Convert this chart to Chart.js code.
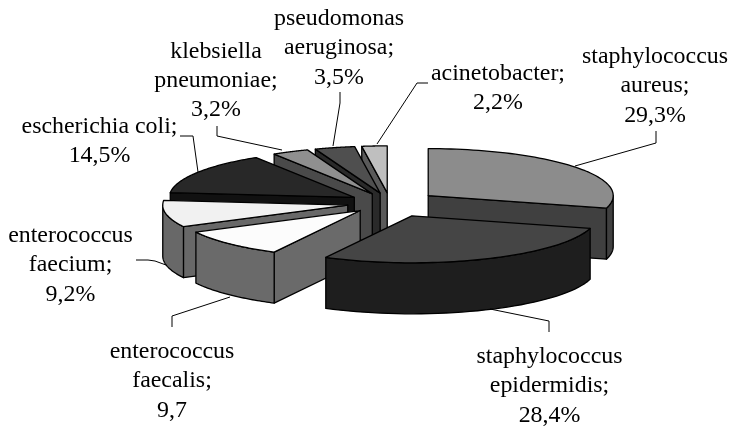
<!DOCTYPE html>
<html><head><meta charset="utf-8">
<style>html,body{margin:0;padding:0;background:#fff}#w{width:730px;height:428px}</style>
<script src="https://cdn.jsdelivr.net/npm/chart.js@4"></script></head>
<body><div id="w"><canvas id="c" width="730" height="428"></canvas></div>
<script>
const categories=["staphylococcus aureus","staphylococcus epidermidis","enterococcus faecalis","enterococcus faecium","escherichia coli","klebsiella pneumoniae","pseudomonas aeruginosa","acinetobacter"];
const values=[29.3,28.4,9.7,9.2,14.5,3.2,3.5,2.2];
const explode=[48,55,42,43,42,40,40,40];
const topColors=["#8c8c8c","#454545","#fcfcfc","#f1f1f1","#282828","#8f8f8f","#4f4f4f","#bfbfbf"];
const wallColors=["#404040","#1e1e1e","#6a6a6a","#686868","#111111","#4a4a4a","#2a2a2a","#5a5a5a"];
const drawOrder=[7,6,5,4,0,3,2,1];
const labelLines=[["staphylococcus","aureus;","29,3%"],["staphylococcus","epidermidis;","28,4%"],["enterococcus","faecalis;","9,7"],["enterococcus","faecium;","9,2%"],["escherichia coli;","14,5%"],["klebsiella","pneumoniae;","3,2%"],["pseudomonas","aeruginosa;","3,5%"],["acinetobacter;","2,2%"]];
const labelX=[655,549.5,172,70.5,99.5,216,339,498];
const labelY=[63,363,358,242,133,57.5,25,79.5];
const leaders=[[[575,166],[656,143],[656,131]],[[490,309],[549,321],[549,332]],[[230,297],[172,316],[172,327]],[[166,265],[155,261],[148,260],[136,260]],[[198,172],[193,136],[180,136]],[[282,150],[217,136],[217,126]],[[333,146],[340,103],[340,92]],[[377,144],[417,83],[428,83]]];
const tilt=0.254, depth=51, lineH=29.3;

function face(ctx,pts,fill){ctx.beginPath();pts.forEach((p,i)=>i?ctx.lineTo(p[0],p[1]):ctx.moveTo(p[0],p[1]));ctx.closePath();ctx.fillStyle=fill;ctx.fill();ctx.stroke();}
const pie3d={id:'pie3d',
 beforeDatasetsDraw(chart){
  const ctx=chart.ctx, arcs=chart.getDatasetMeta(0).data;
  ctx.save();ctx.strokeStyle='#000';ctx.lineWidth=1.3;ctx.lineJoin='round';
  drawOrder.forEach(i=>{
   const el=arcs[i], R=el.outerRadius, a0=el.startAngle, a1=el.endAngle, mid=(a0+a1)/2, off=el.options.offset;
   const ox=el.x+Math.cos(mid)*off, oy=Math.sin(mid)*off*tilt+el.y;
   const P=(a,d=0)=>[ox+Math.cos(a)*R, oy+Math.sin(a)*R*tilt+d];
   const A=[ox,oy], A2=[ox,oy+depth];
   const wall=wallColors[i];
   if(-Math.cos(a0)>0) face(ctx,[A,P(a0),P(a0,depth),A2],wall);
   if(Math.cos(a1)>0) face(ctx,[A,P(a1),P(a1,depth),A2],wall);
   // outer wall: only the part of the rim that faces the viewer
   const n0=((a0%(2*Math.PI))+2*Math.PI)%(2*Math.PI), span=a1-a0;
   let s=n0,e=n0+span; const segs=[];
   [[0,Math.PI],[2*Math.PI,3*Math.PI]].forEach(([l,h])=>{const x=Math.max(s,l),y=Math.min(e,h);if(y>x)segs.push([x,y]);});
   segs.forEach(([x,y])=>{const pts=[];const n=40;
     for(let k=0;k<=n;k++)pts.push(P(x+(y-x)*k/n));
     for(let k=n;k>=0;k--)pts.push(P(x+(y-x)*k/n,depth));
     face(ctx,pts,wall);});
   const top=[A];for(let k=0;k<=60;k++)top.push(P(a0+span*k/60));
   face(ctx,top,el.options.backgroundColor);
  });
  ctx.restore();
  return false;
 },
 afterDraw(chart){
  const ctx=chart.ctx;ctx.save();
  ctx.strokeStyle='#000';ctx.lineWidth=1;
  leaders.forEach(l=>{ctx.beginPath();l.forEach((p,i)=>i?ctx.lineTo(p[0],p[1]):ctx.moveTo(p[0],p[1]));ctx.stroke();});
  ctx.fillStyle='#000';ctx.font='23.9px "Liberation Serif"';ctx.textAlign='center';ctx.textBaseline='alphabetic';
  labelLines.forEach((ls,i)=>ls.forEach((t,j)=>ctx.fillText(t,labelX[i],labelY[i]+j*lineH)));
  ctx.restore();
 }};
new Chart(document.getElementById('c'),{type:'pie',
 data:{labels:categories,datasets:[{data:values,backgroundColor:topColors,offset:explode,borderWidth:0,radius:185}]},
 options:{responsive:false,animation:false,rotation:0,layout:{padding:{left:50,bottom:22}},
  plugins:{legend:{display:false},tooltip:{enabled:false}}},
 plugins:[pie3d]});
</script></body></html>
